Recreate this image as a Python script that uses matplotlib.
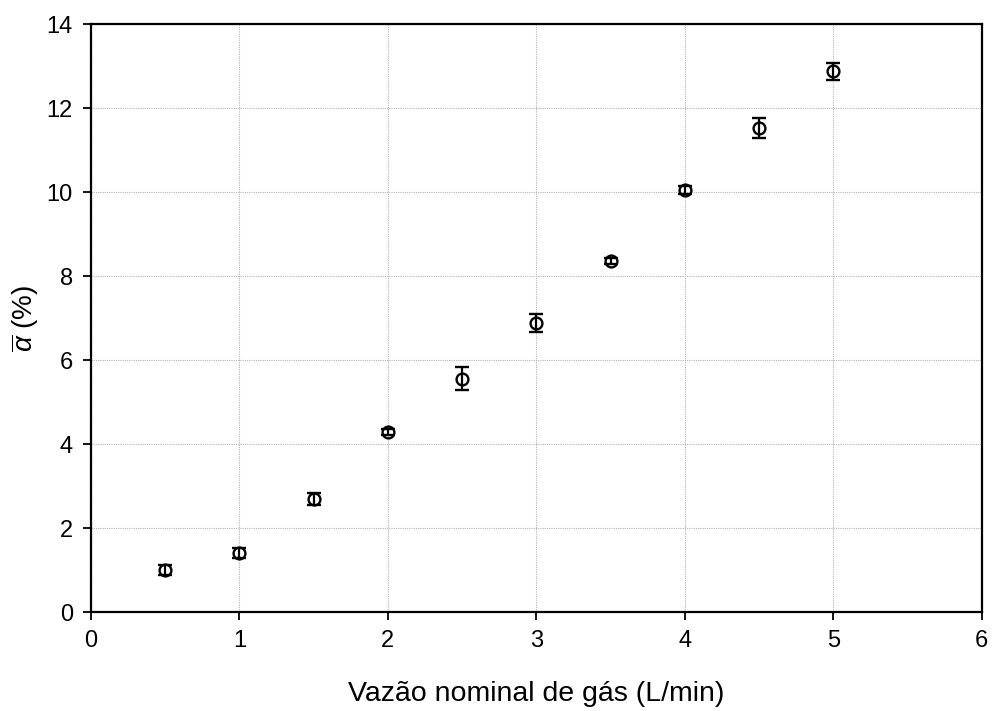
import numpy as np
import matplotlib.pyplot as plt

plt.rcParams['font.family'] = ['Liberation Sans', 'DejaVu Sans']
plt.rcParams['mathtext.fontset'] = 'custom'
plt.rcParams['mathtext.it'] = 'Liberation Sans:italic'
plt.rcParams['mathtext.rm'] = 'Liberation Sans'

# gas flow rate (L/min) and mean void fraction (%)
vazao = [0.5, 1.0, 1.5, 2.0, 2.5, 3.0, 3.5, 4.0, 4.5, 5.0]
alfa = [1.00, 1.40, 2.69, 4.29, 5.56, 6.89, 8.37, 10.05, 11.53, 12.88]
erro = [0.12, 0.12, 0.15, 0.06, 0.28, 0.22, 0.07, 0.10, 0.24, 0.20]

fig = plt.figure(figsize=(9.92, 7.11), dpi=100)
ax = fig.add_axes([0.0917, 0.139, 0.898, 0.827])

ax.errorbar(vazao, alfa, yerr=erro, fmt='o', mfc='none', mec='black',
            ms=8.5, mew=1.7, ecolor='black', elinewidth=1.6, capsize=4.8,
            capthick=1.7, zorder=3)

ax.set_xlim(0, 6)
ax.set_ylim(0, 14)
ax.set_xticks(range(0, 7))
ax.set_yticks(range(0, 15, 2))
ax.grid(True, linestyle=(0, (1, 1)), color='#b5b5b5', linewidth=0.8)
ax.set_axisbelow(True)

for s in ax.spines.values():
    s.set_linewidth(1.6)
ax.tick_params(direction='out', length=6, width=1.3, labelsize=17,
               top=False, right=False, pad=7)

ax.set_xlabel('Vazão nominal de gás (L/min)', fontsize=20.5, va='center')
ax.xaxis.set_label_coords(0.5, -0.14)
ax.set_ylabel(r'$\overline{\alpha}$ (%)', fontsize=20, va='center')
ax.yaxis.set_label_coords(-0.074, 0.5)

fig.savefig('out.png', dpi=100)
